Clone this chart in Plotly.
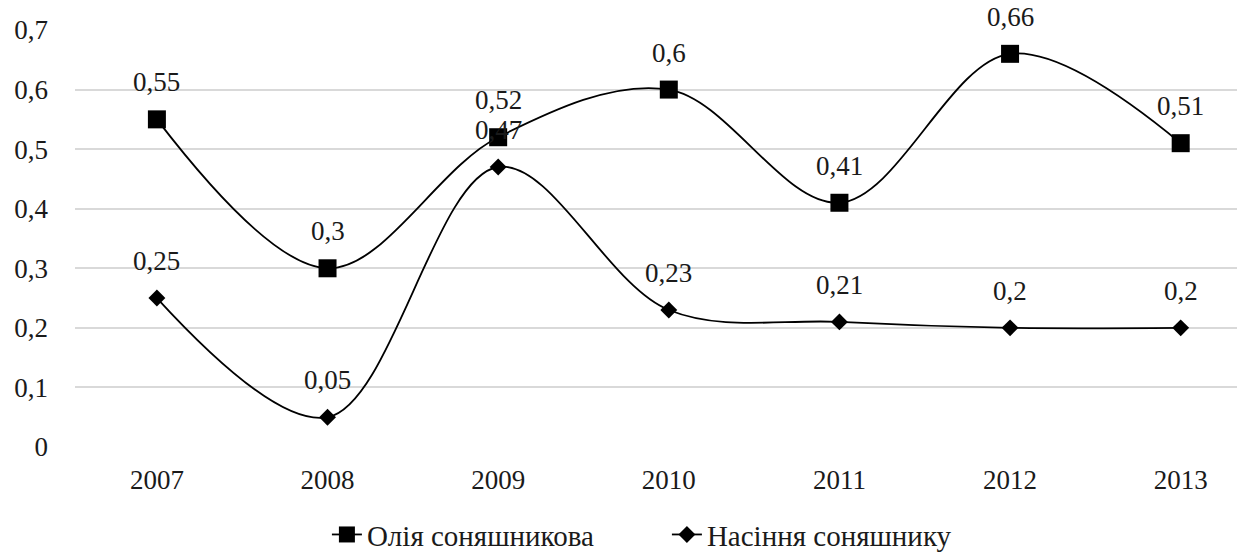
import plotly.graph_objects as go

years = ["2007", "2008", "2009", "2010", "2011", "2012", "2013"]
oil = [0.55, 0.30, 0.52, 0.60, 0.41, 0.66, 0.51]
seeds = [0.25, 0.05, 0.47, 0.23, 0.21, 0.20, 0.20]
y_ticks = [0, 0.1, 0.2, 0.3, 0.4, 0.5, 0.6, 0.7]
name_oil = "Олія соняшникова"
name_seeds = "Насіння соняшнику"

def fmt(v):
    s = ("%g" % v)
    return s.replace(".", ",")

FONT = "Times New Roman, Liberation Serif, DejaVu Serif, serif"
TXT = "#1a1a1a"
FS = 27
xs = list(range(len(years)))

fig = go.Figure()
fig.add_trace(go.Scatter(
    x=xs, y=oil, name=name_oil, mode="lines+markers",
    line=dict(color="black", width=1.8, shape="spline", smoothing=1),
    marker=dict(symbol="square", size=18, color="black"),
))
fig.add_trace(go.Scatter(
    x=xs, y=seeds, name=name_seeds, mode="lines+markers",
    line=dict(color="black", width=1.8, shape="spline", smoothing=1),
    marker=dict(symbol="diamond", size=13, color="black"),
))

annotations = []
for series in (oil, seeds):
    for x, v in zip(xs, series):
        annotations.append(dict(
            x=x, y=v, text=fmt(v), showarrow=False, yshift=37,
            xanchor="center", yanchor="middle",
            font=dict(family=FONT, size=FS, color=TXT),
        ))

fig.update_layout(
    width=1243, height=554,
    margin=dict(l=75, r=6, t=30, b=107),
    paper_bgcolor="white", plot_bgcolor="white",
    font=dict(family=FONT, size=FS, color=TXT),
    showlegend=True,
    legend=dict(orientation="h", xref="container", yref="container",
                x=0.263, xanchor="left", y=0.035, yanchor="middle",
                entrywidth=295, entrywidthmode="pixels",
                font=dict(family=FONT, size=29, color=TXT)),
    annotations=annotations,
)
fig.update_xaxes(
    range=[-0.48, 6.33], tickvals=xs, ticktext=years,
    showgrid=False, zeroline=False, showline=False, ticks="",
    ticklabelstandoff=14,
)
fig.update_yaxes(
    range=[0, 0.7], tickvals=y_ticks, ticktext=[fmt(v) for v in y_ticks],
    showgrid=True, gridcolor="#d9d9d9", gridwidth=1.5, zeroline=False,
    showline=False, ticks="", ticklabelstandoff=26,
)
fig.write_html("out.html", config={"displayModeBar": False},
               post_script="document.body.style.margin='0';")
